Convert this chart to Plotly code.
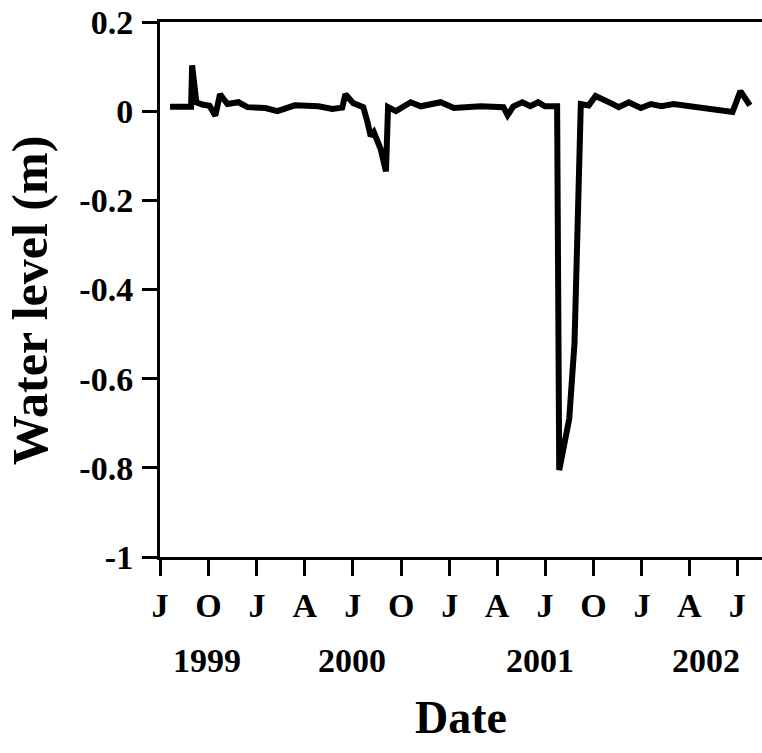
import plotly.graph_objects as go

# Water level record (m)
dates = [
    "1999-07-20", "1999-08-29", "1999-08-31", "1999-09-08", "1999-09-19",
    "1999-10-03", "1999-10-14", "1999-10-23", "1999-11-06", "1999-11-27",
    "1999-12-14", "2000-01-17", "2000-02-09", "2000-03-13", "2000-04-27",
    "2000-05-23", "2000-06-11", "2000-06-17", "2000-07-02", "2000-07-21",
    "2000-07-29", "2000-08-04", "2000-08-10", "2000-08-17", "2000-08-23",
    "2000-09-02", "2000-09-06", "2000-09-21", "2000-10-06", "2000-10-19",
    "2000-11-07", "2000-12-15", "2001-01-09", "2001-01-28", "2001-03-01",
    "2001-04-13", "2001-04-21", "2001-05-02", "2001-05-19", "2001-06-03",
    "2001-06-18", "2001-07-01", "2001-07-24", "2001-07-28", "2001-08-16",
    "2001-08-26", "2001-09-07", "2001-09-22", "2001-10-05", "2001-11-03",
    "2001-11-18", "2001-12-07", "2001-12-30", "2002-01-18", "2002-02-07",
    "2002-03-02", "2002-06-22", "2002-07-07", "2002-07-25",
]
water_level = [
    0.010, 0.010, 0.103, 0.020, 0.015,
    0.012, -0.010, 0.038, 0.016, 0.020,
    0.009, 0.007, 0.000, 0.013, 0.011,
    0.005, 0.008, 0.038, 0.018, 0.009,
    -0.025, -0.056, -0.047, -0.070, -0.085,
    -0.135, 0.009, 0.000, 0.009, 0.020,
    0.011, 0.020, 0.007, 0.009, 0.011,
    0.009, -0.009, 0.011, 0.020, 0.011,
    0.020, 0.011, 0.011, -0.805, -0.690,
    -0.520, 0.016, 0.013, 0.034, 0.018,
    0.009, 0.020, 0.007, 0.016, 0.011,
    0.016, -0.002, 0.045, 0.013,
]

# Quarterly ticks and their month initials
tick_dates = [
    "1999-07-01", "1999-10-01", "2000-01-01", "2000-04-01", "2000-07-01",
    "2000-10-01", "2001-01-01", "2001-04-01", "2001-07-01", "2001-10-01",
    "2002-01-01", "2002-04-01", "2002-07-01",
]
tick_text = ["J", "O", "J", "A", "J", "O", "J", "A", "J", "O", "J", "A", "J"]

y_ticks = [0.2, 0, -0.2, -0.4, -0.6, -0.8, -1]
y_tick_text = ["0.2", "0", "-0.2", "-0.4", "-0.6", "-0.8", "-1"]

years = ["1999", "2000", "2001", "2002"]
year_x = [0.078, 0.319, 0.631, 0.907]

FONT = "'Liberation Serif', 'Times New Roman', Times, serif"

fig = go.Figure()
fig.add_trace(go.Scatter(
    x=dates, y=water_level, mode="lines",
    line=dict(color="black", width=6),
    showlegend=False, hoverinfo="skip",
))

fig.update_layout(
    width=762, height=753,
    margin=dict(l=160, r=0, t=22, b=196),
    paper_bgcolor="white", plot_bgcolor="white",
    font=dict(family=FONT, color="black"),
    xaxis=dict(
        range=["1999-07-01", "2002-08-17"],
        tickmode="array", tickvals=tick_dates, ticktext=tick_text,
        ticks="outside", ticklen=16, tickwidth=3, tickcolor="black",
        showline=True, linecolor="black", linewidth=3, mirror=True,
        showgrid=False, zeroline=False,
        tickfont=dict(family=FONT, size=34, color="black", weight="bold"),
        ticklabelstandoff=0,
    ),
    yaxis=dict(
        range=[-1, 0.2],
        tickmode="array", tickvals=y_ticks, ticktext=y_tick_text,
        ticks="outside", ticklen=15, tickwidth=3, tickcolor="black",
        showline=True, linecolor="black", linewidth=3,
        showgrid=False, zeroline=False,
        tickfont=dict(family=FONT, size=34, color="black", weight="bold"),
        ticklabelstandoff=2,
    ),
)

for label, xp in zip(years, year_x):
    fig.add_annotation(
        x=xp, y=-0.193, xref="paper", yref="paper",
        text=label, showarrow=False, xanchor="center", yanchor="middle",
        font=dict(family=FONT, size=34, color="black", weight="bold"),
    )

fig.add_annotation(
    x=0.5, y=-0.30, xref="paper", yref="paper",
    text="Date", showarrow=False, xanchor="center", yanchor="middle",
    font=dict(family=FONT, size=46, color="black", weight="bold"),
)

fig.add_annotation(
    x=-0.216, y=0.48, xref="paper", yref="paper",
    text="Water level (m)", textangle=-90, showarrow=False,
    xanchor="center", yanchor="middle",
    font=dict(family=FONT, size=50, color="black", weight="bold"),
)

fig.write_html("out.html")
